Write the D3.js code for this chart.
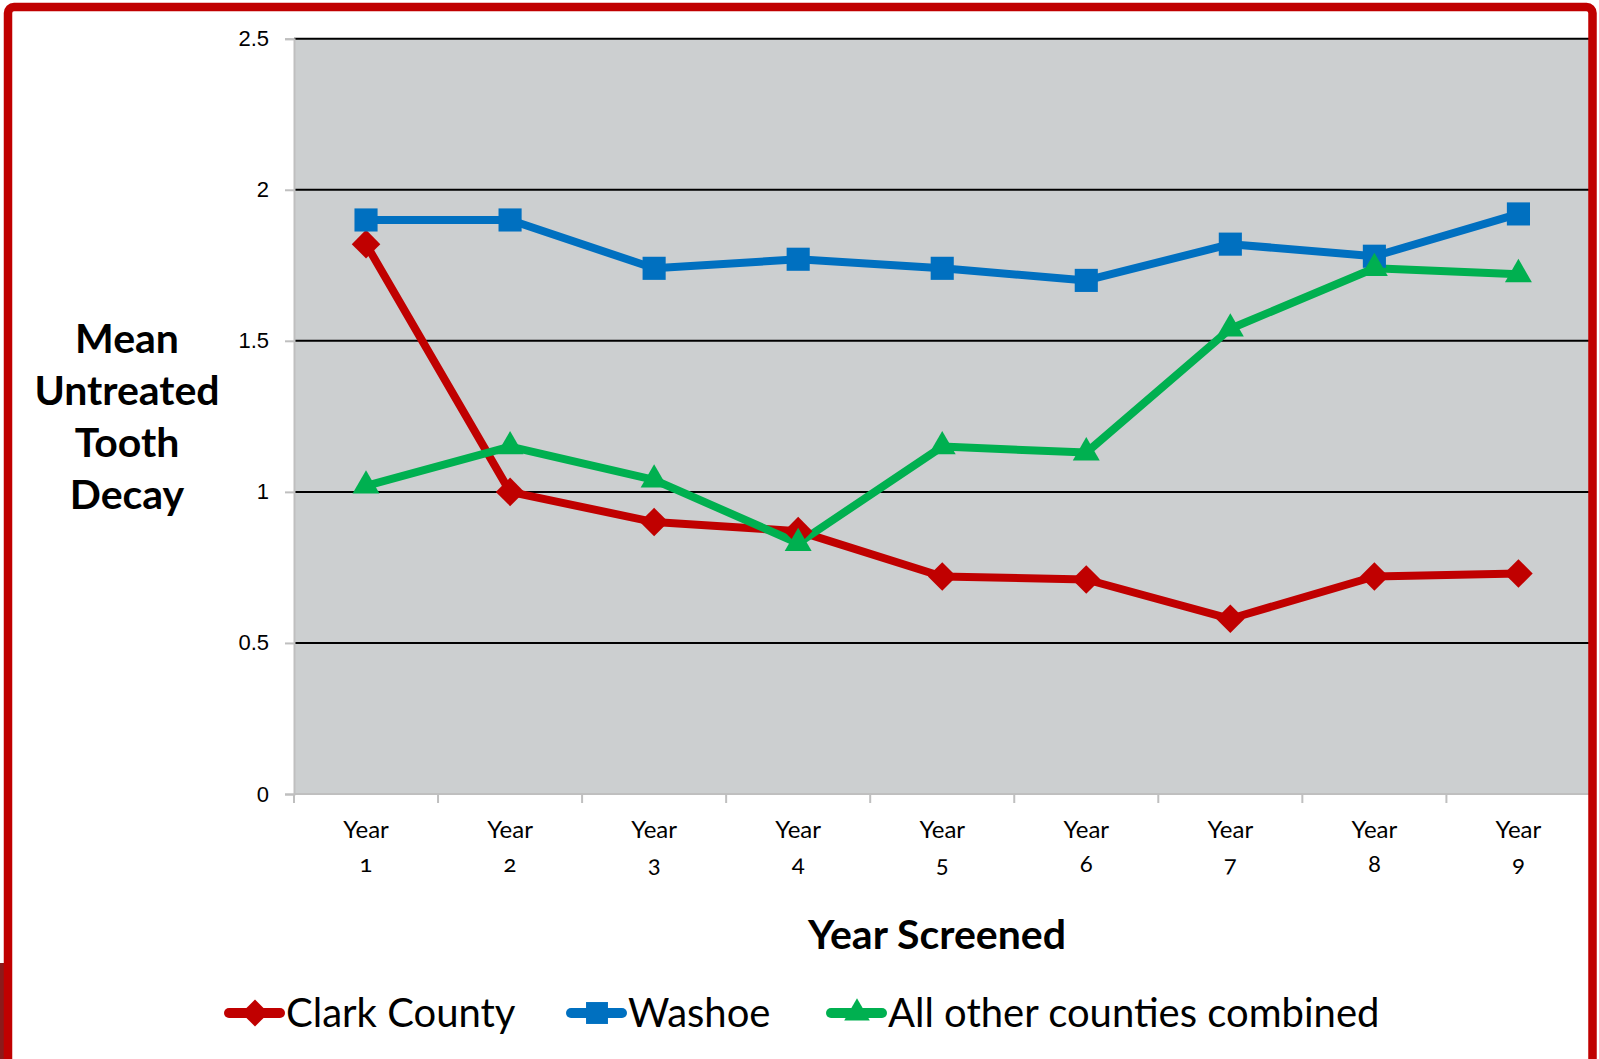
<!DOCTYPE html>
<html>
<head>
<meta charset="utf-8">
<script src="https://cdn.jsdelivr.net/npm/d3@7"></script>
<style>
  html, body { margin: 0; padding: 0; background: #fff; }
  svg { display: block; font-family: Lato, "Open Sans", sans-serif; }
  .num { font-variant-numeric: oldstyle-nums; }
</style>
</head>
<body>
<div id="chart"></div>
<script>
// data
const years = ["1", "2", "3", "4", "5", "6", "7", "8", "9"];
const clark = [1.82, 1.00, 0.90, 0.87, 0.72, 0.71, 0.58, 0.72, 0.73];
const washoe = [1.90, 1.90, 1.74, 1.77, 1.74, 1.70, 1.82, 1.78, 1.92];
const others = [1.02, 1.15, 1.04, 0.83, 1.15, 1.13, 1.54, 1.74, 1.72];
const yTicks = [0, 0.5, 1, 1.5, 2, 2.5];
const seriesNames = ["Clark County", "Washoe", "All other counties combined"];

const W = 1599, H = 1059;
const svg = d3.select("#chart").append("svg")
    .attr("width", W)
    .attr("height", H);

const series = [
    { name: seriesNames[0], values: clark, color: "#C00000", symbol: d3.symbolDiamond2, size: 520 },
    { name: seriesNames[1], values: washoe, color: "#0070C0", symbol: d3.symbolSquare2, size: 680 },
    { name: seriesNames[2], values: others, color: "#00B050", symbol: d3.symbolTriangle2, size: 520 }
];

const x = d3.scaleBand().domain(years).range([294, 294 + 9 * 144.05]);
const y = d3.scaleLinear().domain([0, 2.5]).range([794, 38.7]);

// plot background
svg.append("rect")
    .attr("x", x.range()[0])
    .attr("y", y(2.5))
    .attr("width", x.range()[1] - x.range()[0])
    .attr("height", y(0) - y(2.5))
    .attr("fill", "#CCCFD0");

// gridlines
svg.append("g")
    .selectAll("line")
    .data(yTicks.filter(d => d > 0))
    .join("line")
    .attr("x1", x.range()[0])
    .attr("x2", x.range()[1])
    .attr("y1", d => y(d))
    .attr("y2", d => y(d))
    .attr("stroke", "#000")
    .attr("stroke-width", 2);

// y axis
const yAxis = svg.append("g")
    .attr("transform", `translate(${x.range()[0]},0)`)
    .call(d3.axisLeft(y).tickValues(yTicks).tickSize(9).tickPadding(16).tickFormat(d3.format("")));
yAxis.select(".domain").attr("stroke", "#BFBFBF").attr("stroke-width", 2);
yAxis.selectAll(".tick line").attr("stroke", "#BFBFBF").attr("stroke-width", 2);
yAxis.selectAll(".tick text")
    .attr("class", "num")
    .attr("fill", "#000")
    .style("font-size", "22px");

// x axis: ticks sit at category boundaries
const bounds = d3.range(10).map(i => x.range()[0] + i * x.step());
svg.append("line")
    .attr("x1", x.range()[0]).attr("x2", x.range()[1])
    .attr("y1", y(0)).attr("y2", y(0))
    .attr("stroke", "#BFBFBF").attr("stroke-width", 2);
svg.append("g")
    .selectAll("line")
    .data(bounds)
    .join("line")
    .attr("x1", d => d).attr("x2", d => d)
    .attr("y1", y(0)).attr("y2", y(0) + 9)
    .attr("stroke", "#BFBFBF").attr("stroke-width", 2);

const xLabels = svg.append("g")
    .selectAll("text")
    .data(years)
    .join("text")
    .attr("text-anchor", "middle")
    .attr("x", d => x(d) + x.bandwidth() / 2)
    .style("font-size", "24px")
    .attr("fill", "#000");
xLabels.append("tspan").attr("x", d => x(d) + x.bandwidth() / 2).attr("y", 838).text("Year");
xLabels.append("tspan").attr("class", "num").attr("x", d => x(d) + x.bandwidth() / 2).attr("y", 872).text(d => d);

// lines and markers
const line = d3.line()
    .x((d, i) => x(years[i]) + x.bandwidth() / 2)
    .y(d => y(d));

series.forEach(s => {
    svg.append("path")
        .attr("d", line(s.values))
        .attr("fill", "none")
        .attr("stroke", s.color)
        .attr("stroke-width", 8)
        .attr("stroke-linejoin", "round");
});
series.forEach(s => {
    const sym = d3.symbol().type(s.symbol).size(s.size)();
    svg.append("g")
        .selectAll("path")
        .data(s.values)
        .join("path")
        .attr("transform", (d, i) => `translate(${x(years[i]) + x.bandwidth() / 2},${y(d)})`)
        .attr("d", sym)
        .attr("fill", s.color);
});

// axis titles
const yTitle = svg.append("text")
    .attr("text-anchor", "middle")
    .style("font-size", "41px")
    .style("font-weight", "bold")
    .attr("fill", "#000");
["Mean", "Untreated", "Tooth", "Decay"].forEach((t, i) => {
    yTitle.append("tspan").attr("x", 127).attr("y", 353 + i * 52).text(t);
});

svg.append("text")
    .attr("x", 937)
    .attr("y", 949)
    .attr("text-anchor", "middle")
    .style("font-size", "41px")
    .style("font-weight", "bold")
    .attr("fill", "#000")
    .text("Year Screened");

// legend
const legendX = [226, 568, 828];
const legend = svg.append("g")
    .selectAll("g")
    .data(series)
    .join("g")
    .attr("transform", (d, i) => `translate(${legendX[i]},1013)`);
legend.append("line")
    .attr("x1", 3).attr("x2", 54)
    .attr("stroke", d => d.color)
    .attr("stroke-width", 10)
    .attr("stroke-linecap", "round");
legend.append("path")
    .attr("transform", "translate(29,0)")
    .attr("d", d => d3.symbol().type(d.symbol).size(d.size * 0.9)())
    .attr("fill", d => d.color);
legend.append("text")
    .attr("x", 60)
    .attr("y", 14)
    .style("font-size", "40px")
    .attr("fill", "#000")
    .text(d => d.name);

// slide frame
svg.append("rect")
    .attr("x", 0).attr("y", 963).attr("width", 4).attr("height", 100)
    .attr("fill", "#8B1A1A");
svg.append("rect")
    .attr("x", 8).attr("y", 7)
    .attr("width", 1584.5).attr("height", 1100)
    .attr("rx", 6)
    .attr("fill", "none")
    .attr("stroke", "#C00000")
    .attr("stroke-width", 8.5);
</script>
</body>
</html>
